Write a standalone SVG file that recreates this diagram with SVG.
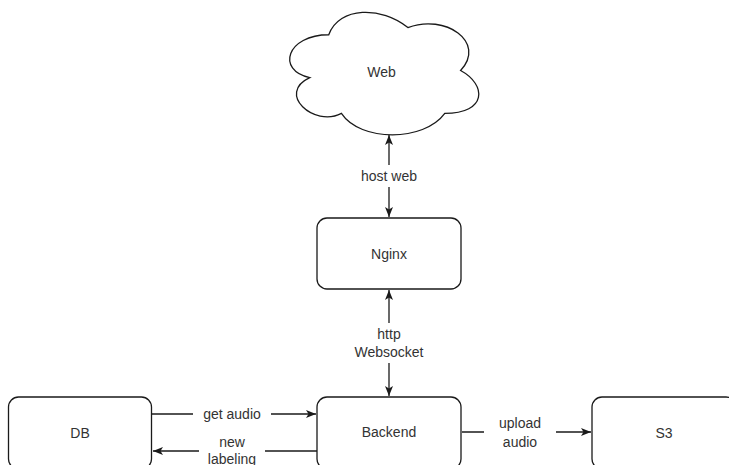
<svg xmlns="http://www.w3.org/2000/svg" width="729" height="465" viewBox="0 0 729 465">
<style>
.shape{fill:#fff;stroke:#1a1a1a;stroke-width:1.3}
.edge{fill:none;stroke:#1a1a1a;stroke-width:1.3}
.lbl{font-family:"Liberation Sans",Arial,sans-serif;font-size:14px;fill:#333;text-anchor:middle;dominant-baseline:central}
.bg{fill:#fff}
</style>
<defs>
<marker id="arr" viewBox="0 0 10 8" refX="10" refY="4" markerWidth="10" markerHeight="8" markerUnits="userSpaceOnUse" orient="auto-start-reverse">
<path d="M0,0 L10,4 L0,8 L2.5,4 z" fill="#1a1a1a"/>
</marker>
</defs>
<rect width="729" height="465" fill="#fff"/>
<g id="connectors">
<line class="edge" x1="389" y1="135" x2="389" y2="217" marker-start="url(#arr)" marker-end="url(#arr)"/>
<rect class="bg" x="352" y="165" width="74" height="22"/>
<text class="lbl" x="389" y="176">host web</text>
<line class="edge" x1="389" y1="290" x2="389" y2="396" marker-start="url(#arr)" marker-end="url(#arr)"/>
<rect class="bg" x="352" y="323" width="74" height="40"/>
<text class="lbl" x="389" y="334">http</text>
<text class="lbl" x="389" y="352">Websocket</text>
<line class="edge" x1="152" y1="414" x2="316" y2="414" marker-end="url(#arr)"/>
<rect class="bg" x="193" y="404" width="78" height="20"/>
<text class="lbl" x="232" y="414">get audio</text>
<line class="edge" x1="317" y1="451" x2="153" y2="451" marker-end="url(#arr)"/>
<rect class="bg" x="199" y="432" width="66" height="33"/>
<text class="lbl" x="232" y="442">new</text>
<text class="lbl" x="232" y="459">labeling</text>
<line class="edge" x1="462" y1="432" x2="591" y2="432" marker-end="url(#arr)"/>
<rect class="bg" x="484" y="412" width="72" height="40"/>
<text class="lbl" x="520" y="423">upload</text>
<text class="lbl" x="520" y="442">audio</text>
</g>
<g id="web">
<path class="shape" d="M 328.75 34.75 C 286.55 34.75 276 70.5 309.76 77.65 C 276 93.38 313.98 127.7 341.41 113.4 C 360.4 142 423.7 142 444.8 113.4 C 487 113.4 487 84.8 460.6 70.5 C 487 41.9 444.8 13.3 407.9 27.6 C 381.5 6.15 339.3 6.15 328.75 34.75 Z"/>
<text class="lbl" x="381.5" y="72">Web</text>
</g>
<g id="nginx">
<rect class="shape" x="317" y="218" width="144" height="71" rx="10" ry="10"/>
<text class="lbl" x="389" y="254">Nginx</text>
</g>
<g id="backend">
<rect class="shape" x="317" y="397" width="144" height="72" rx="10" ry="10"/>
<text class="lbl" x="389" y="432">Backend</text>
</g>
<g id="db">
<rect class="shape" x="8.5" y="397" width="143" height="72" rx="10" ry="10"/>
<text class="lbl" x="80" y="433">DB</text>
</g>
<g id="s3">
<rect class="shape" x="592" y="397" width="144" height="72" rx="10" ry="10"/>
<text class="lbl" x="664" y="433">S3</text>
</g>
</svg>
